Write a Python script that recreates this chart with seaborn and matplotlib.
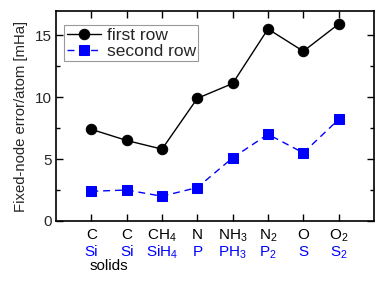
import matplotlib
matplotlib.use("Agg")
import matplotlib.pyplot as plt
import seaborn as sns
import pandas as pd
from matplotlib.ticker import MultipleLocator

first_labels = ["C", "C", "CH$_4$", "N", "NH$_3$", "N$_2$", "O", "O$_2$"]
second_labels = ["Si", "Si", "SiH$_4$", "P", "PH$_3$", "P$_2$", "S", "S$_2$"]
first_row = [7.4, 6.5, 5.8, 9.9, 11.1, 15.5, 13.7, 15.9]
second_row = [2.4, 2.5, 2.0, 2.7, 5.1, 7.0, 5.5, 8.2]
positions = list(range(1, 9))

sns.set_style("ticks")
plt.rcParams['font.family'] = ['Liberation Sans', 'DejaVu Sans']
plt.rcParams['mathtext.fontset'] = 'custom'
plt.rcParams['mathtext.rm'] = 'Liberation Sans'

df1 = pd.DataFrame({"x": positions, "y": first_row})
df2 = pd.DataFrame({"x": positions, "y": second_row})

fig = plt.figure(figsize=(3.82, 2.86), dpi=100)
ax = fig.add_axes([56/382, 1 - 221/286, (374-56)/382, (221-11)/286])

sns.lineplot(data=df1, x="x", y="y", ax=ax, color="black", lw=1.0,
             marker="o", markersize=7.5, markeredgecolor="black", label="first row")
sns.lineplot(data=df2, x="x", y="y", ax=ax, color="#0000ff", lw=1.0,
             marker="s", markersize=6.5, markeredgecolor="#0000ff", label="second row")
ax.lines[1].set_dashes([5, 3.5])

ax.set_xlim(0, 9)
ax.set_ylim(0, 16.95)
ax.set_xticks(positions)
ax.set_xticklabels([])
ax.set_xlabel("")
ax.yaxis.set_major_locator(MultipleLocator(5))
ax.yaxis.set_minor_locator(MultipleLocator(2.5))
ax.tick_params(axis="both", which="both", direction="in", top=True, right=True,
               width=1.0, color="black")
ax.tick_params(axis="both", which="major", length=5, labelsize=11, pad=3)
ax.tick_params(axis="y", which="minor", length=3)
for s in ax.spines.values():
    s.set_linewidth(1.2)
    s.set_color("black")
ax.set_ylabel("Fixed-node error/atom [mHa]", fontsize=10.7, labelpad=5)

trans = ax.get_xaxis_transform()
for p, a, b in zip(positions, first_labels, second_labels):
    ax.text(p, -0.086, a, transform=trans, ha="center", va="baseline", fontsize=11, color="black")
    ax.text(p, -0.167, b, transform=trans, ha="center", va="baseline", fontsize=11, color="#0000ff")
ax.text(1.5, -0.233, "solids", transform=trans, ha="center", va="baseline", fontsize=11, color="black")

leg = ax.legend(loc="upper left", bbox_to_anchor=(8/318, 1 - 14/210), fontsize=12.5,
                frameon=True, fancybox=False, handlelength=2.0, handletextpad=0.3,
                borderpad=0.15, labelspacing=0.05, borderaxespad=0.0)
leg.get_frame().set_edgecolor("gray")
leg.get_frame().set_linewidth(0.8)

fig.savefig("out.png", dpi=100)
